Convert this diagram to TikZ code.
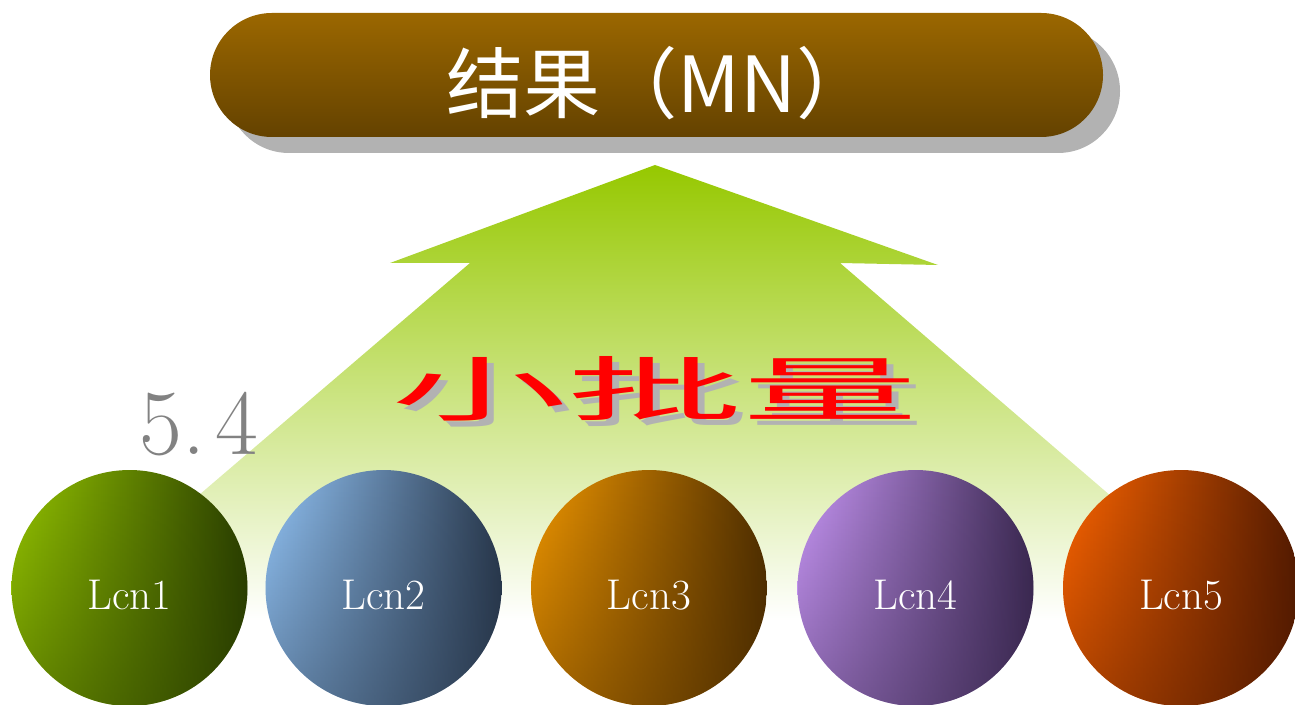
\documentclass[tikz,border=0pt]{standalone}
\usepackage{fontspec}
\newfontfamily\cjk{Noto Sans CJK SC}
\usetikzlibrary{fadings}
\definecolor{bantop}{RGB}{155,103,0}
\definecolor{banbot}{RGB}{100,66,0}
\definecolor{shadowgray}{RGB}{178,178,178}
\definecolor{arrowgreen}{RGB}{150,200,0}
\definecolor{numgray}{RGB}{130,130,130}
\definecolor{aL}{RGB}{150,198,0}\definecolor{aD}{RGB}{42,62,0}
\definecolor{bL}{RGB}{148,198,248}\definecolor{bD}{RGB}{40,55,75}
\definecolor{cL}{RGB}{242,152,0}\definecolor{cD}{RGB}{78,46,0}
\definecolor{dL}{RGB}{202,152,248}\definecolor{dD}{RGB}{58,40,80}
\definecolor{eL}{RGB}{255,102,0}\definecolor{eD}{RGB}{82,26,0}
\newcommand{\balltext}[1]{\raisebox{-12pt}[0pt][0pt]{#1}}
\newcommand{\shadowtext}[1]{\makebox[0pt][l]{\hspace{1.6pt}\raisebox{-3.2pt}{\textcolor{shadowgray}{#1}}}\textcolor{red}{#1}}
\tikzset{
  ball/.style n args={2}{circle, minimum size=4.72cm, inner sep=0pt,
    left color=#1, right color=#2, text=white,
    font=\fontsize{24.5}{29}\selectfont,
    postaction={path fading=north, fill=#2, fill opacity=0.45}},
  banner/.style={rounded corners=1.24cm, top color=bantop, bottom color=banbot},
  bigcjk/.style={font=\cjk\fontsize{40}{48}\selectfont}
}
\begin{document}
\begin{tikzpicture}[x=0.02cm,y=-0.02cm]
\useasboundingbox (0,0) rectangle (1295,705);
% banner
\fill[shadowgray, rounded corners=1.24cm] (227,29) rectangle (1120,153);
\shade[banner] (210,13) rectangle (1103,137);
\node[text=white, font=\cjk\fontsize{44}{50}\selectfont] (res) at (660,83) {结果（MN）};
% arrow
\shade[top color=arrowgreen, bottom color=white]
  (655,165) -- (938,265) -- (840,263) -- (1255,620) -- (53,620) -- (470,263) -- (390,263) -- cycle;
\node[bigcjk, inner sep=0pt] (mid) at (655,392) {\scalebox{2.5}[1]{\shadowtext{小批量}}};
\node[text=numgray, font=\fontsize{53}{60}\selectfont] (num) at (199,424) {5.\hspace{6pt}4};
% balls
\node[ball={aL}{aD}] (l1) at (129.5,588) {\balltext{Lcn1}};
\node[ball={bL}{bD}] (l2) at (383.5,588) {\balltext{Lcn2}};
\node[ball={cL}{cD}] (l3) at (649,588) {\balltext{Lcn3}};
\node[ball={dL}{dD}] (l4) at (915.5,588) {\balltext{Lcn4}};
\node[ball={eL}{eD}] (l5) at (1181,588) {\balltext{Lcn5}};
\end{tikzpicture}
\end{document}
